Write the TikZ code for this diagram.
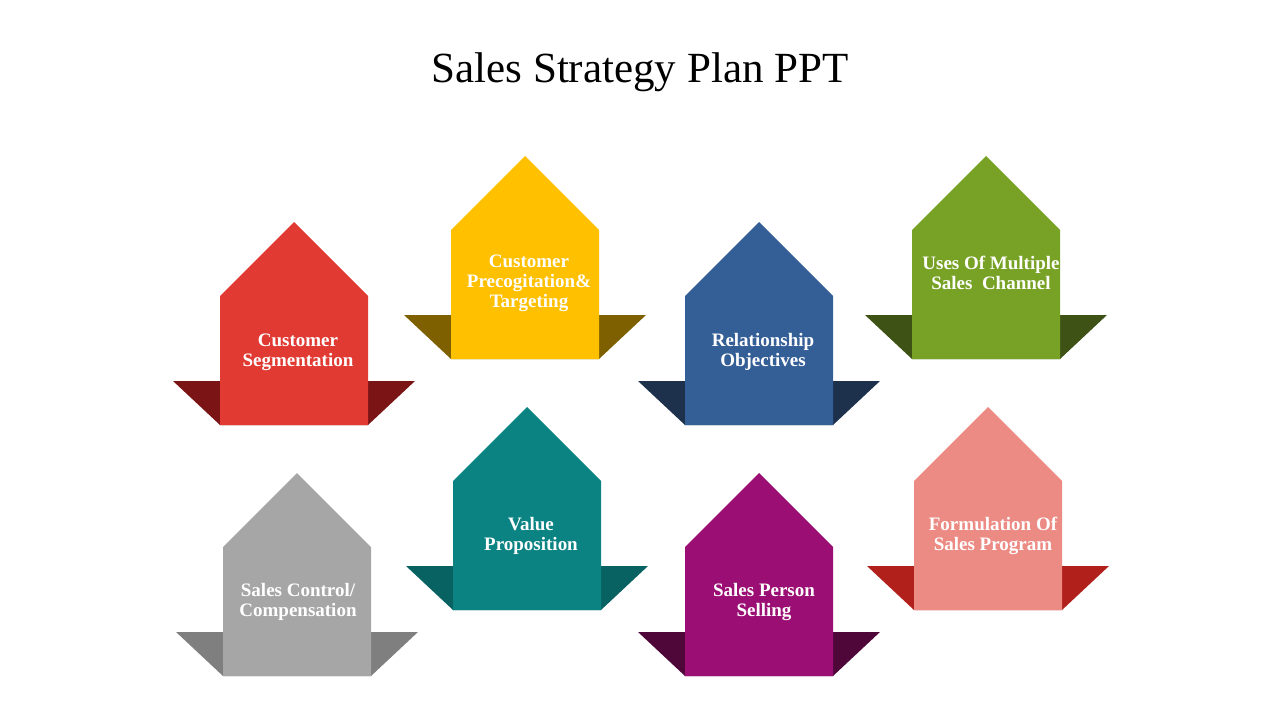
\documentclass[tikz,border=0pt]{standalone}
\usepackage{fontspec}
\setmainfont{Liberation Serif}
\usepackage{tikz}

\definecolor{segred}{HTML}{E03A33}
\definecolor{segdark}{HTML}{7B1414}
\definecolor{tgtyellow}{HTML}{FFC000}
\definecolor{tgtdark}{HTML}{7F6000}
\definecolor{relblue}{HTML}{345E96}
\definecolor{reldark}{HTML}{1D314D}
\definecolor{chgreen}{HTML}{78A226}
\definecolor{chdark}{HTML}{3D5214}
\definecolor{ctlgray}{HTML}{A6A6A6}
\definecolor{ctldark}{HTML}{7F7F7F}
\definecolor{valteal}{HTML}{0B8383}
\definecolor{valdark}{HTML}{086262}
\definecolor{selpurple}{HTML}{9B0E73}
\definecolor{seldark}{HTML}{4F0639}
\definecolor{prgpink}{HTML}{EC8A84}
\definecolor{prgdark}{HTML}{B2201B}

\tikzset{
  label text/.style={text=white, align=center, inner sep=0pt,
    font=\fontsize{19}{20}\selectfont\bfseries},
  title text/.style={font=\fontsize{43}{48}\selectfont, anchor=base}
}

\begin{document}
\begin{tikzpicture}[x=1pt,y=-1pt]
\useasboundingbox (0,0) rectangle (1280,720);
\node[title text] (title) at (640,82) {Sales Strategy Plan PPT};

\foreach \cx/\ay/\fc/\dc/\tx/\ty/\name/\txt in {
  294/222/segred/segdark/298/352/seg/{Customer\\Segmentation},
  525/156/tgtyellow/tgtdark/529/283/tgt/{Customer\\Precogitation\&\\Targeting},
  759/222/relblue/reldark/763/352/rel/{Relationship\\Objectives},
  986/156/chgreen/chdark/991/273/chn/{Uses Of Multiple\\Sales\ \ Channel},
  297/473/ctlgray/ctldark/298/602/ctl/{Sales Control/\\Compensation},
  527/407/valteal/valdark/531/536/val/{Value\\Proposition},
  759/473/selpurple/seldark/764/602/sel/{Sales Person\\Selling},
  988/407/prgpink/prgdark/993/536/prg/{Formulation Of\\Sales Program}}
{
  % wings behind the house
  \fill[\dc] (\cx-121,\ay+159) -- (\cx+121,\ay+159) -- (\cx+74,\ay+203)
    -- (\cx-74,\ay+203) -- cycle;
  \fill[\fc] (\cx-74,\ay+203) -- (\cx-74,\ay+74) -- (\cx,\ay)
    -- (\cx+74,\ay+74) -- (\cx+74,\ay+203) -- cycle;
  \node[label text] (\name) at (\tx,\ty) {\txt};
}
\end{tikzpicture}
\end{document}
